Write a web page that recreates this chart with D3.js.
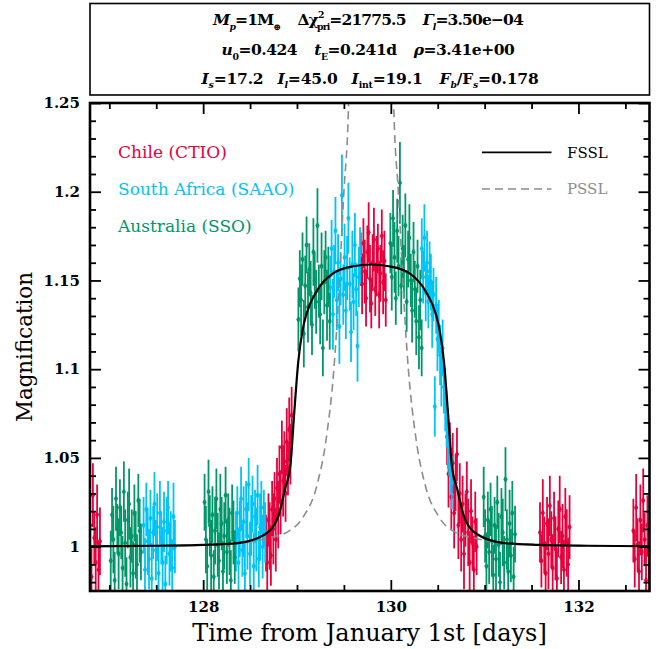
<!DOCTYPE html>
<html><head><meta charset="utf-8">
<script src="https://cdn.jsdelivr.net/npm/d3@7"></script>
<style>body{margin:0;background:#fff}svg{display:block}</style>
</head><body><svg id="c" width="665" height="649"></svg>
<script>
// ---------- data ----------
const chileT=[126.78,126.795,126.81,126.825,126.84,126.855,126.87,126.885,126.9,
128.67,128.683,128.696,128.709,128.722,128.735,128.748,128.761,128.774,128.787,128.8,128.813,128.826,128.839,128.852,128.865,128.878,128.891,128.904,128.917,128.93,128.943,
129.68,129.694,129.708,129.722,129.736,129.75,129.764,129.778,129.792,129.806,129.82,129.834,129.848,129.862,129.876,129.89,129.904,129.918,129.932,129.946,
130.6,130.615,130.63,130.645,130.66,130.675,130.69,130.705,130.72,130.735,130.75,130.765,130.78,130.795,130.81,130.825,130.84,130.855,130.87,130.885,130.9,130.915,
131.59,131.605,131.62,131.635,131.65,131.665,131.68,131.695,131.71,131.725,131.74,131.755,131.77,131.785,131.8,131.815,131.83,131.845,131.86,131.875,131.89,131.905,
132.585,132.6,132.615,132.63,132.645,132.66,132.675,132.69,132.705,132.72,132.735,132.75];
const chileA=[0.998,1.012,0.983,1.029,1.005,0.991,1.018,0.987,1.003,
1.002,0.991,1.015,1.006,0.995,1.021,1.010,1.027,1.004,1.033,1.018,1.041,1.025,1.056,1.037,1.048,1.030,1.059,1.044,1.066,1.052,1.074,
1.162,1.148,1.171,1.155,1.140,1.166,1.177,1.151,1.137,1.160,1.173,1.145,1.158,1.168,1.142,1.154,1.175,1.149,1.161,1.139,
1.062,1.041,1.055,1.028,1.047,1.019,1.036,1.052,1.012,1.030,1.004,1.024,0.996,1.015,1.031,1.008,0.991,1.020,1.002,0.987,1.014,1.000,
1.008,0.992,1.019,1.001,0.985,1.013,0.996,1.023,1.004,0.988,1.016,0.999,0.982,1.010,1.021,0.994,1.006,0.987,1.017,1.002,0.990,1.011,
1.009,0.993,1.022,1.001,0.986,1.015,0.997,1.026,1.004,0.981,1.012,0.995];
const chileE=[0.017,0.019,0.016,0.018,0.015,0.020,0.017,0.016,0.019,
0.016,0.018,0.015,0.019,0.017,0.016,0.020,0.015,0.018,0.017,0.019,0.016,0.018,0.015,0.020,0.017,0.016,0.019,0.015,0.018,0.017,0.016,
0.015,0.017,0.014,0.018,0.016,0.015,0.017,0.019,0.014,0.016,0.018,0.015,0.017,0.014,0.019,0.016,0.015,0.018,0.017,0.015,
0.016,0.019,0.015,0.018,0.017,0.020,0.016,0.015,0.019,0.017,0.018,0.016,0.020,0.015,0.017,0.019,0.016,0.018,0.015,0.019,0.017,0.016,
0.017,0.015,0.019,0.016,0.018,0.015,0.020,0.017,0.016,0.019,0.015,0.018,0.017,0.016,0.019,0.015,0.018,0.017,0.016,0.019,0.015,0.018,
0.018,0.016,0.019,0.015,0.017,0.020,0.016,0.018,0.015,0.019,0.017,0.016];

const saaoT=[127.365,127.38,127.394,127.409,127.423,127.438,127.452,127.467,127.481,127.496,127.51,127.525,127.539,127.554,127.568,127.583,127.597,127.612,127.626,127.641,127.655,127.67,127.684,127.699,
128.35,128.364,128.377,128.391,128.404,128.418,128.431,128.445,128.458,128.472,128.485,128.499,128.512,128.526,128.539,128.553,128.566,128.58,128.593,128.607,128.62,128.634,128.647,128.661,
129.355,129.369,129.383,129.396,129.41,129.424,129.438,129.452,129.465,129.479,129.493,129.507,129.521,129.534,129.548,129.562,129.576,129.59,129.603,129.617,129.631,129.645,129.659,129.672,
130.33,130.344,130.358,130.372,130.386,130.4,130.413,130.427,130.441,130.455,130.469,130.483,130.497,130.511,130.525,130.539,130.552,130.566,130.58,130.594,130.608,130.622,130.636,130.65];
const saaoA=[1.012,0.987,1.021,1.003,0.993,1.016,0.982,1.008,1.024,0.998,1.011,0.985,1.019,1.005,0.991,1.014,0.979,1.009,1.022,0.996,1.003,0.988,1.017,1.000,
1.003,1.019,0.991,1.010,1.027,0.998,1.014,0.985,1.021,1.006,1.035,0.996,1.012,1.024,0.989,1.017,1.004,1.029,0.993,1.011,1.022,1.000,1.016,1.008,
1.146,1.168,1.131,1.155,1.178,1.139,1.160,1.124,1.151,1.198,1.142,1.163,1.133,1.157,1.185,1.148,1.121,1.159,1.138,1.170,1.145,1.113,1.152,1.164,
1.168,1.152,1.174,1.143,1.160,1.138,1.155,1.149,1.131,1.142,1.079,1.136,1.117,1.124,1.108,1.098,1.112,1.090,1.083,1.072,1.061,1.055,1.046,1.036];
const saaoE=[0.016,0.018,0.015,0.019,0.017,0.016,0.020,0.015,0.018,0.017,0.019,0.016,0.018,0.015,0.020,0.017,0.016,0.019,0.015,0.018,0.017,0.016,0.019,0.015,
0.017,0.015,0.019,0.016,0.018,0.015,0.020,0.017,0.016,0.019,0.015,0.018,0.017,0.016,0.019,0.015,0.018,0.017,0.016,0.019,0.015,0.018,0.016,0.017,
0.018,0.016,0.020,0.015,0.019,0.017,0.016,0.021,0.015,0.023,0.017,0.019,0.016,0.018,0.020,0.015,0.017,0.019,0.016,0.018,0.015,0.020,0.017,0.016,
0.017,0.015,0.019,0.016,0.018,0.015,0.017,0.016,0.019,0.015,0.017,0.016,0.018,0.015,0.017,0.019,0.016,0.015,0.018,0.016,0.017,0.015,0.016,0.015];

const ssoT=[127.015,127.029,127.043,127.057,127.071,127.085,127.099,127.113,127.127,127.141,127.155,127.169,127.183,127.197,127.211,127.225,127.239,127.253,127.267,127.281,127.295,127.309,127.323,127.337,
128.015,128.029,128.043,128.057,128.071,128.085,128.099,128.113,128.127,128.141,128.155,128.169,128.183,128.197,128.211,128.225,128.239,128.253,128.267,128.281,128.295,128.309,128.323,128.337,
129.015,129.03,129.044,129.059,129.073,129.088,129.102,129.117,129.131,129.146,129.16,129.175,129.189,129.204,129.218,129.233,129.247,129.262,129.276,129.291,129.305,129.32,129.334,129.349,
129.995,130.01,130.024,130.039,130.053,130.068,130.082,130.097,130.111,130.126,130.14,130.155,130.169,130.184,130.198,130.213,130.227,130.242,130.256,130.271,130.285,130.3,130.314,130.329,
130.99,131.005,131.019,131.034,131.048,131.063,131.077,131.092,131.106,131.121,131.135,131.15,131.164,131.179,131.193,131.208,131.222,131.237,131.251,131.266,131.28,131.295,131.309,131.324];
const ssoA=[0.992,1.018,1.004,0.981,1.027,1.010,0.996,1.022,1.008,0.988,1.031,1.002,0.979,1.015,1.024,0.994,1.006,0.985,1.019,1.001,0.990,1.026,1.009,0.997,
1.025,1.004,0.989,1.031,1.012,0.995,1.018,0.983,1.009,1.027,1.001,0.992,1.021,1.013,0.986,1.006,1.029,0.997,1.015,1.003,0.981,1.019,1.008,0.994,
1.128,1.151,1.139,1.162,1.120,1.147,1.170,1.135,1.156,1.143,1.125,1.166,1.150,1.138,1.181,1.144,1.131,1.158,1.112,1.149,1.163,1.136,1.152,1.127,
1.171,1.152,1.185,1.163,1.140,1.178,1.158,1.205,1.147,1.168,1.155,1.181,1.138,1.162,1.174,1.150,1.133,1.166,1.145,1.127,1.158,1.118,1.139,1.112,
1.028,1.006,0.989,1.015,0.997,1.021,1.003,0.984,1.012,0.993,1.025,1.001,0.980,1.017,1.008,0.991,1.038,1.004,0.986,1.013,0.995,1.019,0.983,1.007];
const ssoE=[0.017,0.015,0.019,0.016,0.018,0.014,0.020,0.016,0.015,0.018,0.017,0.019,0.015,0.016,0.020,0.017,0.015,0.018,0.016,0.019,0.017,0.015,0.018,0.016,
0.016,0.019,0.015,0.018,0.017,0.020,0.016,0.015,0.019,0.017,0.018,0.016,0.020,0.015,0.017,0.019,0.016,0.018,0.015,0.019,0.017,0.016,0.018,0.015,
0.018,0.016,0.020,0.015,0.019,0.017,0.016,0.020,0.015,0.018,0.017,0.019,0.016,0.018,0.021,0.015,0.017,0.019,0.016,0.018,0.015,0.020,0.017,0.016,
0.017,0.019,0.016,0.020,0.015,0.018,0.017,0.023,0.016,0.019,0.015,0.018,0.017,0.016,0.019,0.015,0.018,0.017,0.016,0.019,0.015,0.018,0.017,0.016,
0.017,0.015,0.019,0.016,0.018,0.015,0.020,0.017,0.016,0.019,0.015,0.018,0.017,0.016,0.019,0.015,0.018,0.017,0.016,0.019,0.015,0.018,0.017,0.016];

// model curves
const fsslT=[126.79,127.5,128.0,128.37,128.66,128.8,128.87,128.93,128.97,129.015,129.06,129.1,129.21,129.385,129.6,129.79,129.98,130.2,130.37,130.48,130.52,130.565,130.61,130.65,130.71,130.78,130.92,131.21,131.58,132.1,132.76];
const fsslA=[1.0002,1.0005,1.001,1.002,1.007,1.017,1.032,1.046,1.075,1.105,1.122,1.131,1.144,1.154,1.158,1.159,1.158,1.154,1.144,1.131,1.122,1.105,1.075,1.046,1.032,1.017,1.007,1.002,1.001,1.0005,1.0002];
const psslT=[126.79,127.5,128.0,128.4,128.7,128.89,129.07,129.21,129.32,129.39,129.42,129.5,129.55,129.6,129.79,129.98,130.03,130.08,130.16,130.19,130.26,130.37,130.51,130.69,130.88,131.2,131.6,132.1,132.76];
const psslA=[1.0003,1.0005,1.001,1.002,1.005,1.008,1.017,1.034,1.064,1.098,1.12,1.20,1.25,1.43,2.5,1.43,1.25,1.20,1.12,1.098,1.064,1.034,1.017,1.008,1.005,1.002,1.001,1.0005,1.0003];

const yTicks=[1,1.05,1.1,1.15,1.2,1.25];
const yTickLabels=["1","1.05","1.1","1.15","1.2","1.25"];
const xTicks=[128,130,132];
const xTickLabels=["128","130","132"];
const siteNames=["Chile (CTIO)","South Africa (SAAO)","Australia (SSO)"];
const siteColors=["#e6003c","#00c3f6","#00966a"];
const modelNames=["FSSL","PSSL"];

// ---------- drawing ----------
const svg=d3.select("#c");
const FONT="DejaVu Serif";
const L=90,R=649.5,T=103,B=591;
const x=d3.scaleLinear().domain([126.794,132.757]).range([L,R]);
const y=d3.scaleLinear().domain([0.975,1.25]).range([B,T]);

svg.append("defs").append("clipPath").attr("id","clip")
  .append("rect").attr("x",L).attr("y",T).attr("width",R-L).attr("height",B-T);

// header box
svg.append("rect").attr("x",90).attr("y",3.5).attr("width",559.5).attr("height",91.5)
  .attr("fill","none").attr("stroke","#000").attr("stroke-width",1.6);

function rich(parent,cx,yb,parts,fs){
  const t=parent.append("text").attr("x",cx).attr("y",yb).attr("font-size",fs)
    .attr("font-family",FONT).attr("font-weight","bold").attr("text-anchor","middle");
  let cur=0;
  parts.forEach(p=>{
    const ts=t.append("tspan").text(p.t);
    let off=0,size=fs;
    if(p.sub){off=0.3*fs;size=0.6*fs;}
    if(p.sup){off=-0.45*fs;size=0.6*fs;}
    ts.attr("font-size",size);
    if(off-cur!==0) ts.attr("dy",off-cur);
    cur=off;
    if(p.it) ts.attr("font-style","italic");
    let dx=(p.gap||0)*fs-(p.back||0)*fs;
    if(dx) ts.attr("dx",dx);
  });
  return t;
}
function fitLine(t,target,nChars){
  const w=t.node().getBBox().width;
  t.attr("letter-spacing",(target-w)/nChars);
}
const line1=[{t:"M",it:1},{t:"p",it:1,sub:1},{t:"=1M"},{t:"⊕",sub:1},
  {t:"Δχ",gap:1.1},{t:"2",sup:1},{t:"pri",sub:1,back:0.42},{t:"=21775.5"},
  {t:"Γ",it:1,gap:1.1},{t:"l",it:1,sub:1},{t:"=3.50e−04"}];
const line2=[{t:"u",it:1},{t:"0",sub:1},{t:"=0.424"},
  {t:"t",it:1,gap:1.1},{t:"E",sub:1},{t:"=0.241d"},
  {t:"ρ",it:1,gap:1.1},{t:"=3.41e+00"}];
const line3=[{t:"I",it:1},{t:"s",it:1,sub:1},{t:"=17.2"},
  {t:"I",it:1,gap:0.9},{t:"l",it:1,sub:1},{t:"=45.0"},
  {t:"I",it:1,gap:0.9},{t:"int",sub:1},{t:"=19.1"},
  {t:"F",it:1,gap:1.1},{t:"b",it:1,sub:1},{t:"/F"},{t:"s",it:1,sub:1},{t:"=0.178"}];
const hdr=svg.append("g");
const HFS=15.5;
[[line1,368,25,311],[line2,368,55,293],[line3,370,83.5,338]].forEach(([parts,cx,yb,w])=>{
  const t=rich(hdr,cx,yb,parts,HFS);
  fitLine(t,w,parts.reduce((s,p)=>s+p.t.length,0));
});

// data
const plot=svg.append("g").attr("clip-path","url(#clip)");
const sites=[
  {t:chileT,a:chileA,e:chileE,c:siteColors[0]},
  {t:saaoT,a:saaoA,e:saaoE,c:siteColors[1]},
  {t:ssoT,a:ssoA,e:ssoE,c:siteColors[2]}];
sites.forEach(s=>{
  const pts=s.t.map((t,i)=>({t,a:s.a[i],e:s.e[i]}));
  const g=plot.append("g");
  g.selectAll("line").data(pts).join("line")
    .attr("x1",d=>x(d.t)).attr("x2",d=>x(d.t))
    .attr("y1",d=>y(d.a-d.e)).attr("y2",d=>y(d.a+d.e))
    .attr("stroke",s.c).attr("stroke-width",1.8);
  g.selectAll("path").data(pts).join("path")
    .attr("d",d3.symbol(d3.symbolDiamond,16))
    .attr("transform",d=>`translate(${x(d.t)},${y(d.a)})`)
    .attr("fill",s.c);
});

// model curves
const ln=d3.line().x(d=>x(d[0])).y(d=>y(d[1])).curve(d3.curveMonotoneX);
plot.append("path").datum(psslT.map((t,i)=>[t,psslA[i]])).attr("d",ln)
  .attr("fill","none").attr("stroke","#8c8c8c").attr("stroke-width",1.6).attr("stroke-dasharray","8,5");
plot.append("path").datum(fsslT.map((t,i)=>[t,fsslA[i]])).attr("d",ln)
  .attr("fill","none").attr("stroke","#000").attr("stroke-width",2.2);

// axes
function styleAxis(g){g.select(".domain").remove();g.selectAll(".tick line").attr("stroke","#000").attr("stroke-width",1.8);
  g.selectAll("text").attr("font-family",FONT).attr("font-weight","bold").attr("font-size",15).attr("fill","#000");}
const yMinor=d3.range(0.98,1.2501,0.01).filter(v=>!yTicks.some(t=>Math.abs(t-v)<1e-6));
const xMinor=d3.range(127,132.76,0.5).filter(v=>!xTicks.some(t=>Math.abs(t-v)<1e-6));
svg.append("g").attr("transform",`translate(${L},0)`)
  .call(d3.axisLeft(y).tickValues(yTicks).tickSize(-11).tickPadding(10).tickFormat((d,i)=>yTickLabels[i])).call(styleAxis);
svg.append("g").attr("transform",`translate(${L},0)`)
  .call(d3.axisLeft(y).tickValues(yMinor).tickSize(-6).tickFormat("")).call(styleAxis);
svg.append("g").attr("transform",`translate(${R},0)`)
  .call(d3.axisRight(y).tickValues(yTicks).tickSize(-11).tickFormat("")).call(styleAxis);
svg.append("g").attr("transform",`translate(${R},0)`)
  .call(d3.axisRight(y).tickValues(yMinor).tickSize(-6).tickFormat("")).call(styleAxis);
svg.append("g").attr("transform",`translate(0,${B})`)
  .call(d3.axisBottom(x).tickValues(xTicks).tickSize(-11).tickPadding(10).tickFormat((d,i)=>xTickLabels[i])).call(styleAxis);
svg.append("g").attr("transform",`translate(0,${B})`)
  .call(d3.axisBottom(x).tickValues(xMinor).tickSize(-6).tickFormat("")).call(styleAxis);
svg.append("g").attr("transform",`translate(0,${T})`)
  .call(d3.axisTop(x).tickValues(xTicks).tickSize(-11).tickFormat("")).call(styleAxis);
svg.append("g").attr("transform",`translate(0,${T})`)
  .call(d3.axisTop(x).tickValues(xMinor).tickSize(-6).tickFormat("")).call(styleAxis);
svg.append("rect").attr("x",L).attr("y",T).attr("width",R-L).attr("height",B-T)
  .attr("fill","none").attr("stroke","#000").attr("stroke-width",2.6);

// axis titles
function fitText(t,w){const m=t.node().getComputedTextLength();t.attr("font-size",+t.attr("font-size")*w/m);}
const xt=svg.append("text").attr("x",369.5).attr("y",641).attr("text-anchor","middle")
  .attr("font-family",FONT).attr("font-size",20).text("Time from January 1st [days]");
fitText(xt,355);
const yt=svg.append("text").attr("transform","translate(31.5,347) rotate(-90)").attr("text-anchor","middle")
  .attr("font-family",FONT).attr("font-size",20).text("Magnification");
fitText(yt,150);

// legends
const lg=svg.append("g");
siteNames.forEach((n,i)=>{
  const t=lg.append("text").attr("x",118).attr("y",158.3+i*36.7).attr("font-family",FONT)
    .attr("font-size",17).attr("fill",siteColors[i]).text(n);
  if(i===0) fitText(t,109);
});
const mc=["#000","#8c8c8c"];
modelNames.forEach((n,i)=>{
  const yy=152.3+i*36.7;
  lg.append("line").attr("x1",482).attr("x2",551.5).attr("y1",yy).attr("y2",yy)
    .attr("stroke",mc[i]).attr("stroke-width",i?1.6:1.8).attr("stroke-dasharray",i?"8,5":null);
  lg.append("text").attr("x",567).attr("y",158.3+i*36).attr("font-family",FONT)
    .attr("font-size",15).attr("fill",mc[i]).text(n);
});
</script></body></html>
